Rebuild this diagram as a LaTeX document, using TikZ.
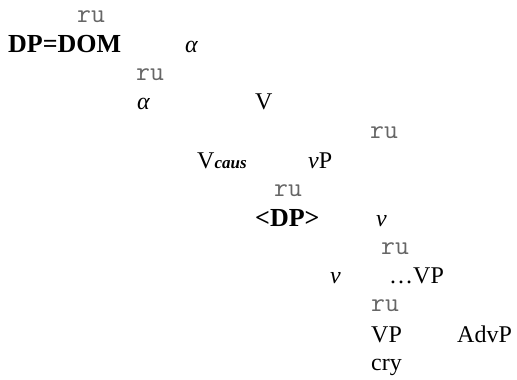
\documentclass[tikz,border=0pt]{standalone}
\usepackage{fontspec}
\setmainfont{Liberation Serif}
\tikzset{
  lbl/.style={anchor=base west, inner sep=0pt, font=\fontsize{24}{28}\selectfont},
  blbl/.style={anchor=base west, inner sep=0pt, font=\fontsize{26}{30}\selectfont\bfseries},
  ru/.style={anchor=base west, inner sep=0pt, text=black!60, font=\fontsize{27}{30}\ttfamily}
}
\begin{document}
\begin{tikzpicture}[x=1pt,y=-1pt]
\useasboundingbox (0,0) rectangle (517,380);
\node[ru]   (r1)   at (77,22)   {ru};
\node[blbl] (dom)  at (8,52)    {DP=DOM};
\node[lbl]  (a1)   at (185,52)  {\textit{α}};
\node[ru]   (r2)   at (136,80)  {ru};
\node[lbl]  (a2)   at (137,109) {\textit{α}};
\node[lbl]  (V)    at (255,109) {V};
\node[ru]   (r3)   at (370,138) {ru};
\node[lbl]  (vc)   at (197,168) {V\textit{\textbf{\fontsize{17}{20}\selectfont caus}}};
\node[lbl]  (vP)   at (308,168) {\textit{v}P};
\node[ru]   (r4)   at (274,196) {ru};
\node[blbl] (dp)   at (255,226) {<DP>};
\node[lbl]  (v1)   at (376,226) {\textit{v}};
\node[ru]   (r5)   at (381,254) {ru};
\node[lbl]  (v2)   at (330,283) {\textit{v}};
\node[lbl]  (dVP)  at (389,283) {\ldots VP};
\node[ru]   (r6)   at (371,311) {ru};
\node[lbl]  (VP)   at (371,342) {VP};
\node[lbl]  (adv)  at (457,342) {AdvP};
\node[lbl]  (cry)  at (371,370) {cry};
\end{tikzpicture}
\end{document}
